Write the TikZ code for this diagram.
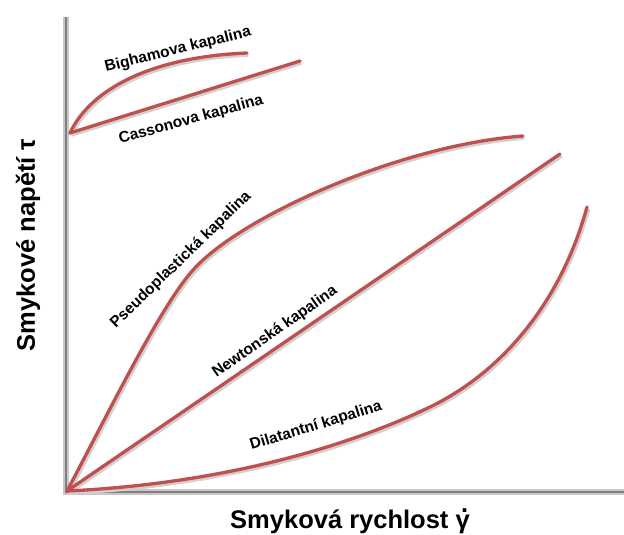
\documentclass[tikz,border=0pt]{standalone}
\usepackage{fontspec}
\setmainfont{Liberation Sans}
\definecolor{kurvered}{RGB}{192,80,77}
\definecolor{osagray}{RGB}{128,128,128}
\tikzset{
  osa/.style={draw=osagray, line width=2.5pt, line join=miter},
  osastin/.style={draw=black!22, line width=6pt, line join=miter},
  kurve/.style={draw=kurvered, line width=3.3pt, line cap=round,
    preaction={draw=black!18, line width=4.5pt,
      transform canvas={shift={(1.3pt,-1.6pt)}}}},
  popis/.style={font=\bfseries\fontsize{15.5}{15.5}\selectfont, inner sep=1pt},
  osapopis/.style={font=\bfseries\fontsize{25.5}{25.5}\selectfont, inner sep=1pt}
}
\begin{document}
\begin{tikzpicture}[x=1pt,y=1pt]
\useasboundingbox (0,0) rectangle (624,535);

% Osy
\coordinate (O) at (67,44);
\coordinate (ytop) at (66,518);
\coordinate (xend) at (624,43);
\draw[osastin] (ytop) -- (66,43) -- (xend);
\draw[osa] (ytop) -- (66,43) -- (xend);

% Bingham a Casson (mez kluzu)
\coordinate (tau0) at (70,402);
\draw[kurve] (tau0) .. controls (90,445) and (150,478) .. (247,482);
\draw[kurve] (tau0) -- (300,474);

% Pseudoplasticka, newtonska, dilatantni
\draw[kurve] (O) .. controls (110,125) and (160,228) .. (193,265)
  .. controls (240,318) and (400,390) .. (523,399);
\draw[kurve] (O) -- (560,381);
\draw[kurve] (O) .. controls (200,50) and (330,80) .. (430,128)
  .. controls (500,162) and (560,230) .. (587,328);

% Popisky
\node[popis, rotate=14] (bingham) at (178,485) {Bighamova kapalina};
\node[popis, rotate=15.5] (casson) at (191,415) {Cassonova kapalina};
\node[popis, rotate=44] (pseudo) at (181,275) {Pseudoplastická kapalina};
\node[popis, rotate=35] (newton) at (275,203) {Newtonská kapalina};
\node[popis, rotate=17] (dilat) at (316,109) {Dilatantní kapalina};

\node[osapopis, rotate=90] (ylab) at (28,290) {Smykové napětí τ};
\node[osapopis] (xlab) at (350,14) {Smyková rychlost \rlap{\hspace{0.22em}\raisebox{0.62em}{.}}γ};

\end{tikzpicture}
\end{document}
